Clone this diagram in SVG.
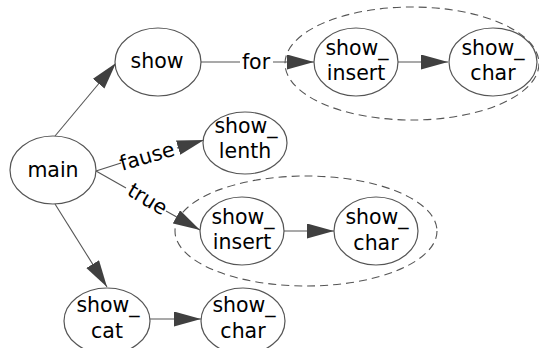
<svg xmlns="http://www.w3.org/2000/svg" width="539" height="348" viewBox="0 0 539 348">
<style>
.n{fill:#fff;stroke:#555;stroke-width:1.2}
.g{fill:none;stroke:#555;stroke-width:1.1;stroke-dasharray:8,5}
.e{fill:none;stroke:#555;stroke-width:1.1}
.t{font-family:"DejaVu Sans","Open Sans",sans-serif;font-size:20.5px;fill:#000;text-anchor:middle}
</style>
<defs>
<marker id="a" markerUnits="userSpaceOnUse" markerWidth="28" markerHeight="16" refX="27" refY="7.5" orient="auto">
<path d="M0,0 L27,7.5 L0,15 z" fill="#404040"/>
</marker>
</defs>
<rect width="539" height="348" fill="#fff"/>
<g id="group-top"><ellipse class="g" cx="412" cy="63.5" rx="127" ry="56.5"/></g>
<g id="group-mid"><ellipse class="g" cx="306" cy="231" rx="131" ry="55"/></g>
<g id="connectors">
<line class="e" x1="55" y1="136" x2="116" y2="63" marker-end="url(#a)"/>
<line class="e" x1="201" y1="62" x2="240" y2="62"/>
<line class="e" x1="273" y1="62" x2="314" y2="62" marker-end="url(#a)"/>
<line class="e" x1="398" y1="62" x2="448" y2="62" marker-end="url(#a)"/>
<line class="e" x1="96" y1="171" x2="121" y2="163"/>
<line class="e" x1="177" y1="148" x2="204" y2="140" marker-end="url(#a)"/>
<line class="e" x1="96" y1="171" x2="126" y2="188"/>
<line class="e" x1="166" y1="211" x2="200" y2="230" marker-end="url(#a)"/>
<line class="e" x1="284" y1="231" x2="334" y2="231" marker-end="url(#a)"/>
<line class="e" x1="55" y1="204" x2="107" y2="287" marker-end="url(#a)"/>
<line class="e" x1="150" y1="319" x2="201" y2="319" marker-end="url(#a)"/>
<text class="t" x="256" y="69">for</text>
<text class="t" transform="translate(149,163) rotate(-16)">fause</text>
<text class="t" transform="translate(144,205) rotate(31)">true</text>
</g>
<g id="main"><ellipse class="n" cx="53" cy="170" rx="43" ry="34"/><text class="t" x="53" y="177">main</text></g>
<g id="show"><ellipse class="n" cx="158" cy="62" rx="43" ry="34"/><text class="t" x="157" y="68">show</text></g>
<g id="show_insert_1"><ellipse class="n" cx="356" cy="62" rx="42" ry="34"/><text class="t"><tspan x="357" y="55">show_</tspan><tspan x="356" y="80">insert</tspan></text></g>
<g id="show_char_1"><ellipse class="n" cx="493" cy="62" rx="44" ry="34"/><text class="t"><tspan x="493" y="55">show_</tspan><tspan x="493" y="80">char</tspan></text></g>
<g id="show_lenth"><ellipse class="n" cx="245" cy="143" rx="42" ry="31"/><text class="t"><tspan x="246" y="133">show_</tspan><tspan x="245" y="158">lenth</tspan></text></g>
<g id="show_insert_2"><ellipse class="n" cx="242" cy="231" rx="42" ry="34"/><text class="t"><tspan x="243" y="224">show_</tspan><tspan x="242" y="249">insert</tspan></text></g>
<g id="show_char_2"><ellipse class="n" cx="376" cy="231" rx="42" ry="34"/><text class="t"><tspan x="377" y="224">show_</tspan><tspan x="376" y="250">char</tspan></text></g>
<g id="show_cat"><ellipse class="n" cx="107" cy="321" rx="43" ry="33"/><text class="t"><tspan x="108" y="312">show_</tspan><tspan x="107" y="338">cat</tspan></text></g>
<g id="show_char_3"><ellipse class="n" cx="243" cy="321" rx="42" ry="33"/><text class="t"><tspan x="244" y="312">show_</tspan><tspan x="243" y="338">char</tspan></text></g>
</svg>
